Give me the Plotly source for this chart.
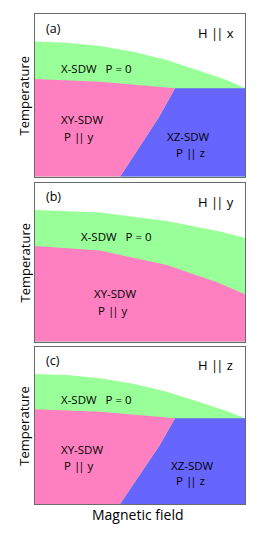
import plotly.graph_objects as go

# ---- data (field h in 0..1, temperature T in 0..1 for each panel) ----
# Panel (a) H || x
a_green_h = [0.0, 0.151, 0.310, 0.468, 0.627, 0.786, 0.913, 1.0]
a_green_T = [0.832, 0.825, 0.805, 0.770, 0.719, 0.651, 0.595, 0.544]
a_pink_h = [0.0, 0.310, 0.500, 0.667]
a_pink_T = [0.602, 0.585, 0.565, 0.544]
a_pb_h = [0.667, 0.592, 0.487, 0.405]   # XY/XZ boundary
a_pb_T = [0.544, 0.370, 0.164, 0.0]

# Panel (b) H || y
b_green_h = [0.0, 0.310, 0.627, 0.870, 1.0]
b_green_T = [0.832, 0.815, 0.762, 0.699, 0.657]
b_pink_h = [0.0, 0.310, 0.627, 0.870, 1.0]
b_pink_T = [0.604, 0.575, 0.484, 0.373, 0.299]

# Panel (c) H || z
c_green_h = [0.0, 0.151, 0.310, 0.468, 0.627, 0.786, 0.913, 1.0]
c_green_T = [0.830, 0.823, 0.803, 0.768, 0.717, 0.650, 0.594, 0.547]
c_pink_h = [0.0, 0.310, 0.500, 0.667]
c_pink_T = [0.604, 0.588, 0.568, 0.547]
c_pb_h = [0.667, 0.592, 0.487, 0.405]
c_pb_T = [0.547, 0.372, 0.166, 0.0]

panel_labels = ["(a)", "(b)", "(c)"]
field_labels = ["x", "y", "z"]

GREEN = "#99FF99"
PINK = "#FF80C0"
BLUE = "#6666FF"

PAR = '<span style="letter-spacing:-2px">|</span>|'

fig = go.Figure()

def poly(xs, ys, color, ax):
    fig.add_trace(go.Scatter(x=xs, y=ys, fill="toself", fillcolor=color,
                             mode="lines", line=dict(width=0, color=color),
                             hoverinfo="skip", showlegend=False,
                             xaxis="x" + ax, yaxis="y" + ax))

def three_phase(gh, gT, ph, pT, bh, bT, ax):
    poly([0] + gh + [1, 0], [0] + gT + [0, 0], GREEN, ax)
    poly([bh[-1]] + bh[::-1] + [1, 1, bh[-1]],
         [0] + bT[::-1] + [bT[0], 0, 0], BLUE, ax)
    poly([0] + ph + bh[1:] + [0], [0] + pT + bT[1:] + [0], PINK, ax)

three_phase(a_green_h, a_green_T, a_pink_h, a_pink_T, a_pb_h, a_pb_T, "")
poly([0] + b_green_h + [1, 0], [0] + b_green_T + [0, 0], GREEN, "2")
poly([0] + b_pink_h + [1, 0], [0] + b_pink_T + [0, 0], PINK, "2")
three_phase(c_green_h, c_green_T, c_pink_h, c_pink_T, c_pb_h, c_pb_T, "3")

FONT = "Open Sans"
OFF = 8  # page body margin
W, H = 273 - OFF, 541 - OFF

def px_x(x):
    return (x - OFF) / W

def px_y(y):
    return 1 - (y - OFF) / H

x_dom = [px_x(35), px_x(245)]
y_px = [(14.3, 176.7), (183.3, 341.7), (347.3, 504.0)]
y_doms = [[px_y(b), px_y(t)] for t, b in y_px]

ax_style = dict(range=[0, 1], showgrid=False, zeroline=False, showticklabels=False,
                ticks="", showline=True, mirror=True, linecolor="#6a6a6a", linewidth=1.3,
                fixedrange=True, automargin=False)
layout = dict(width=W, height=H, margin=dict(l=0, r=0, t=0, b=0),
              paper_bgcolor="white", plot_bgcolor="white", showlegend=False)
names = ["", "2", "3"]
for i, n in enumerate(names):
    layout["xaxis" + n] = dict(ax_style, domain=x_dom, anchor="y" + n)
    layout["yaxis" + n] = dict(ax_style, domain=y_doms[i], anchor="x" + n)
fig.update_layout(**layout)

# axis titles
for t, b in y_px:
    fig.add_annotation(xref="paper", yref="paper", x=px_x(24), y=px_y((t + b) / 2),
                       xanchor="center", yanchor="middle",
                       text="Temperature", textangle=-90, showarrow=False,
                       font=dict(family=FONT, size=13, color="black"))
fig.add_annotation(xref="paper", yref="paper", x=px_x(138), y=px_y(514),
                   xanchor="center", yanchor="middle",
                   text="Magnetic field", showarrow=False,
                   font=dict(family=FONT, size=14, color="black"))

def txt(ax, x, y, s, size=11.5, anchor="center"):
    fig.add_annotation(xref="x" + ax, yref="y" + ax, x=x, y=y, text=s,
                       showarrow=False, xanchor=anchor, yanchor="middle",
                       font=dict(family=FONT, size=size, color="black"))

for i, n in enumerate(names):
    txt(n, 0.045, 0.915, panel_labels[i], size=12.5, anchor="left")
    txt(n, 0.86, 0.885, "H " + PAR + " " + field_labels[i], size=13)

# (a)
txt("", 0.295, 0.665, "X-SDW&nbsp;&nbsp;&nbsp;P = 0")
txt("", 0.225, 0.35, "XY-SDW")
txt("", 0.21, 0.245, "P " + PAR + " y")
txt("", 0.73, 0.245, "XZ-SDW")
txt("", 0.74, 0.15, "P " + PAR + " z")
# (b)
txt("2", 0.39, 0.665, "X-SDW&nbsp;&nbsp;&nbsp;P = 0")
txt("2", 0.38, 0.305, "XY-SDW")
txt("2", 0.37, 0.20, "P " + PAR + " y")
# (c)
txt("3", 0.295, 0.67, "X-SDW&nbsp;&nbsp;&nbsp;P = 0")
txt("3", 0.225, 0.345, "XY-SDW")
txt("3", 0.21, 0.245, "P " + PAR + " y")
txt("3", 0.75, 0.245, "XZ-SDW")
txt("3", 0.74, 0.15, "P " + PAR + " z")

fig.write_html("out.html")
